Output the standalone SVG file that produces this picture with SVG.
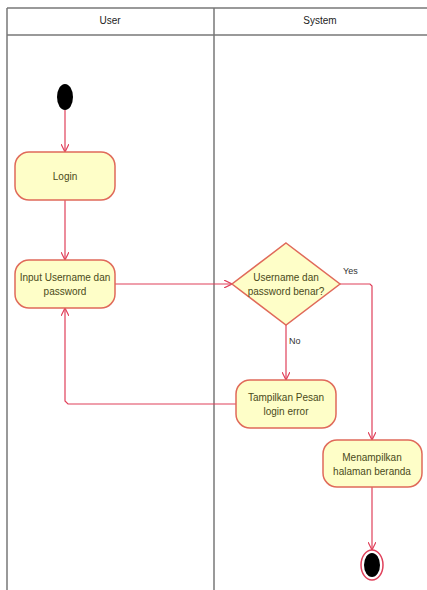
<svg xmlns="http://www.w3.org/2000/svg" width="427" height="590" viewBox="0 0 427 590">
<defs>
<style>
.lane{fill:none;stroke:#777;stroke-width:1.5}
.node{fill:#fefec8;stroke:#e06a5a;stroke-width:1.5}
.t{font-family:"Liberation Sans Narrow","Liberation Sans",Arial,sans-serif;font-size:10px;fill:#4a4a1a;text-anchor:middle}
.h{font-family:"Liberation Sans Narrow","Liberation Sans",Arial,sans-serif;font-size:10px;fill:#222;text-anchor:middle}
.lbl{font-family:"Liberation Sans Narrow","Liberation Sans",Arial,sans-serif;font-size:9px;fill:#333}
.c{fill:none;stroke:#e0405a;stroke-width:1.2}
</style>
<marker id="arr" viewBox="0 0 10 10" refX="10" refY="5" markerWidth="8" markerHeight="8" orient="auto" markerUnits="userSpaceOnUse">
<path d="M0,0 L10,5 L0,10" fill="none" stroke="#e0405a" stroke-width="1.5"/>
</marker>
</defs>
<rect width="427" height="590" fill="#fff"/>
<g id="lanes">
<line class="lane" x1="7" y1="8" x2="427" y2="8"/>
<line class="lane" x1="7" y1="35" x2="427" y2="35"/>
<line class="lane" x1="7" y1="8" x2="7" y2="590"/>
<line class="lane" x1="214" y1="8" x2="214" y2="590"/>
<text class="h" x="110" y="24">User</text>
<text class="h" x="320" y="24">System</text>
</g>
<g id="connectors">
<line class="c" x1="65" y1="110" x2="65" y2="152" marker-end="url(#arr)"/>
<line class="c" x1="65" y1="200" x2="65" y2="260" marker-end="url(#arr)"/>
<line class="c" x1="115" y1="284" x2="232" y2="284" marker-end="url(#arr)"/>
<polyline class="c" points="340,284 370,284 372,286 372,440" marker-end="url(#arr)"/>
<line class="c" x1="286" y1="325" x2="286" y2="380" marker-end="url(#arr)"/>
<polyline class="c" points="236,404 68,404 65,401 65,308" marker-end="url(#arr)"/>
<line class="c" x1="372" y1="487" x2="372" y2="550" marker-end="url(#arr)"/>
<text class="lbl" x="343" y="274">Yes</text>
<text class="lbl" x="289" y="344">No</text>
</g>
<g id="start">
<ellipse cx="65" cy="97" rx="8" ry="13" fill="#000"/>
</g>
<g id="login">
<rect class="node" x="15" y="152" width="100" height="48" rx="14"/>
<text class="t" x="65" y="180">Login</text>
</g>
<g id="input">
<rect class="node" x="15" y="260" width="100" height="48" rx="14"/>
<text class="t" x="65" y="281">Input Username dan</text>
<text class="t" x="65" y="295">password</text>
</g>
<g id="decision">
<polygon class="node" points="286,243 340,284 286,325 232,284"/>
<text class="t" x="286" y="281">Username dan</text>
<text class="t" x="286" y="295">password benar?</text>
</g>
<g id="error">
<rect class="node" x="236" y="380" width="100" height="48" rx="14"/>
<text class="t" x="286" y="401">Tampilkan Pesan</text>
<text class="t" x="286" y="415">login error</text>
</g>
<g id="home">
<rect class="node" x="323" y="440" width="99" height="47" rx="14"/>
<text class="t" x="372" y="461">Menampilkan</text>
<text class="t" x="372" y="475">halaman beranda</text>
</g>
<g id="end">
<ellipse cx="372" cy="565" rx="11" ry="15" fill="none" stroke="#e0405a" stroke-width="1.5"/>
<ellipse cx="372" cy="565" rx="8" ry="12" fill="#000"/>
</g>
</svg>
